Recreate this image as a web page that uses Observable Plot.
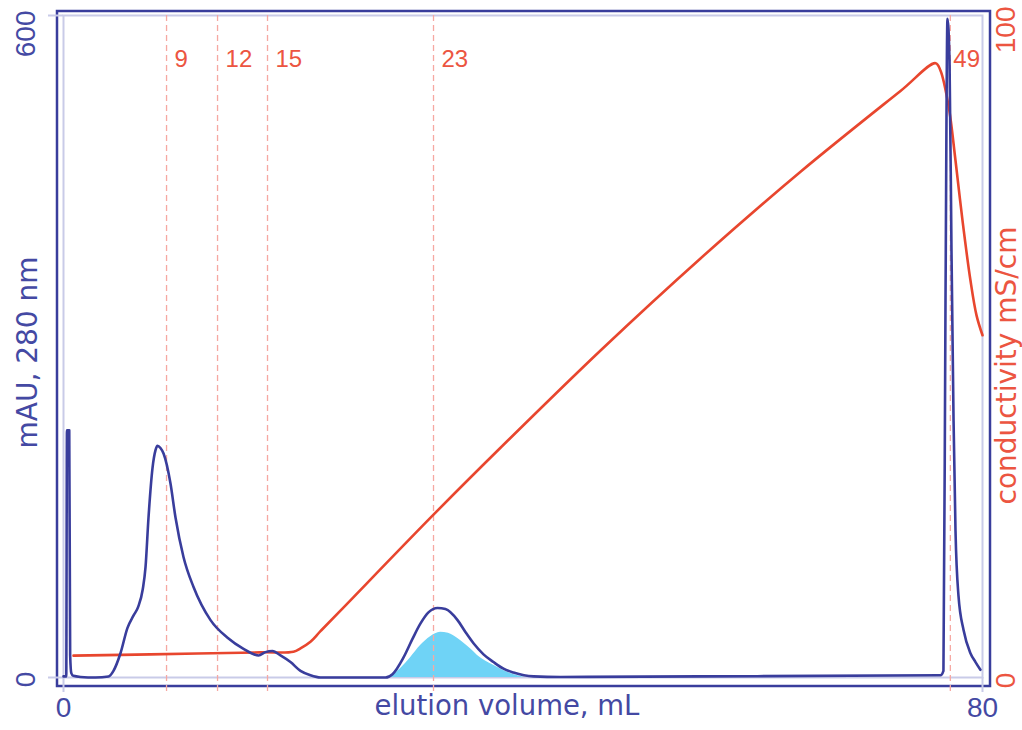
<!DOCTYPE html>
<html><head><meta charset="utf-8">
<script src="https://cdn.jsdelivr.net/npm/d3@7"></script>
<script src="https://cdn.jsdelivr.net/npm/@observablehq/plot@0.6"></script>
<style>html,body{margin:0;padding:0;background:#fff;overflow:hidden}</style>
</head><body><div id="chart"></div>
<script>
// UV absorbance trace (mAU at 280 nm) vs elution volume (mL)
const uvVolume = [0, 0.24, 0.30, 0.50, 0.58, 0.68, 0.85, 1.48, 2.79, 3.92, 4.35, 4.96, 5.57, 6.09, 6.50, 6.90, 7.14, 7.40, 7.75, 8.01, 8.18, 8.44, 8.71, 9.31, 9.75, 10.45, 11.32, 12.80, 14.28, 15.67, 16.98, 17.58, 18.19, 18.89, 19.76, 20.63, 21.50, 22.37, 28.03, 28.64, 29.59, 30.38, 31.08, 31.77, 32.56, 33.25, 34.30, 35.00, 35.69, 36.56, 37.43, 38.30, 39.17, 40.92, 43.26, 55.45, 76.34, 76.60, 76.78, 76.95, 77.13, 77.30, 77.48, 77.65, 77.91, 78.35, 78.95, 79.39, 79.82];
const uvAbsorbance = [1, 1, 224, 224, 20, 4, 1.5, 0.5, 0, 0.9, 6, 22, 45, 56, 64, 80, 100, 145, 190, 206, 210, 208, 203, 176, 145, 109, 82, 52, 36, 26, 20, 23, 24, 20, 14, 6, 2, 0, 0, 3, 18, 35, 49, 59, 63, 62, 52, 41, 31, 21, 14, 8, 4.5, 1, 0.5, 1, 2, 6, 342, 597, 559, 387, 233, 133, 74, 43, 22, 14, 7];

// Shaded target peak (fraction 23)
const peakVolume = [28.47, 29.33, 30.21, 31.08, 31.95, 32.82, 33.51, 34.56, 35.43, 36.04, 37.43, 38.91, 40.22];
const peakAbsorbance = [0, 8, 18, 29, 37, 41, 40, 33.5, 26, 20, 11, 3.6, 0];

// Conductivity trace (mS/cm)
const condVolume = [0.87, 7.57, 17.15, 20.02, 20.63, 21.50, 22.37, 24.11, 32.21, 38.04, 46.75, 55.45, 64.16, 72.86, 75.91, 76.34, 77.04, 77.65, 78.26, 78.95, 79.48, 80.0];
const conductivity = [3.3, 3.5, 3.8, 3.9, 4.4, 5.4, 7.0, 10.1, 24.6, 34.7, 49.4, 63.3, 76.4, 88.6, 92.8, 91.7, 86.4, 78.1, 69.0, 60.0, 54.7, 51.7];

// Fraction markers
const fractionNumbers = ["9", "12", "15", "23", "49"];
const fractionVolumes = [8.97, 13.41, 17.76, 32.21, 77.2];

// Axis ticks
const xTicks = [0, 80];
const xTickLabels = ["0", "80"];
const uvTicks = [0, 600];
const uvTickLabels = ["0", "600"];
const condTicks = [0, 100];
const condTickLabels = ["0", "100"];

const condToUv = 6; // 100 mS/cm spans the same height as 600 mAU

const BLUE = "#393d9c";
const BLUE_TEXT = "#4449a3";
const LIGHT = "#c9cbe8";
const RED = "#e8462e";
const RED_TEXT = "#ec5541";
const PINK = "#f6a8a2";
const CYAN = "#6fd3f6";
const TICKFONT = "Liberation Sans, Arial, sans-serif";
const TITLEFONT = "DejaVu Sans, sans-serif";

const uv = uvVolume.map((v, i) => ({v, a: uvAbsorbance[i]}));
const peak = peakVolume.map((v, i) => ({v, a: peakAbsorbance[i]}));
const cond = condVolume.map((v, i) => ({v, c: conductivity[i]}));
const fractions = fractionNumbers.map((n, i) => ({n, v: fractionVolumes[i]}));

const chart = Plot.plot({
  width: 1022,
  height: 730,
  marginLeft: 63,
  marginRight: 40,
  marginTop: 15,
  marginBottom: 53,
  x: {domain: [0, 80]},
  y: {domain: [0, 600]},
  style: {background: "#fff", overflow: "visible"},
  marks: [
    Plot.frame({stroke: BLUE, strokeWidth: 2.5, insetLeft: -6.5, insetTop: -4.5, insetRight: -7.5, insetBottom: -8.5}),
    Plot.frame({stroke: LIGHT, strokeWidth: 2}),
    Plot.axisY({ticks: uvTicks, tickSize: 15, stroke: LIGHT, strokeWidth: 2, fill: "none", label: null}),
    Plot.axisX({ticks: xTicks, tickSize: 15, stroke: LIGHT, strokeWidth: 2, fill: "none", label: null}),
    Plot.areaY(peak, {x: "v", y: "a", fill: CYAN, curve: "monotone-x"}),
    Plot.ruleX(fractions, {x: "v", stroke: PINK, strokeWidth: 1.3, strokeDasharray: "6,4", insetBottom: -18}),
    Plot.line(cond, {x: "v", y: d => d.c * condToUv, stroke: RED, strokeWidth: 2.6, curve: "catmull-rom"}),
    Plot.line(uv, {x: "v", y: "a", stroke: BLUE, strokeWidth: 2.6, curve: "monotone-x"}),
    // fraction labels
    Plot.text(fractions.slice(0, 4), {x: "v", text: "n", frameAnchor: "top", dy: 34, dx: 8, textAnchor: "start", fill: RED_TEXT, fontSize: 24, fontFamily: TICKFONT}),
    Plot.text(fractions.slice(4), {x: "v", text: "n", frameAnchor: "top", dy: 34, dx: 3, textAnchor: "start", fill: RED_TEXT, fontSize: 24, fontFamily: TICKFONT}),
    // x tick labels
    Plot.text(xTicks, {x: d => d, text: (d, i) => xTickLabels[i], frameAnchor: "bottom", dy: 39, fill: BLUE_TEXT, fontSize: 28, fontFamily: TICKFONT}),
    // left tick labels
    Plot.text(uvTicks.slice(0, 1), {y: d => d, text: (d, i) => uvTickLabels[i], frameAnchor: "left", dx: -37, dy: 2, rotate: -90, textAnchor: "middle", fill: BLUE_TEXT, fontSize: 28, fontFamily: TICKFONT}),
    Plot.text(uvTicks.slice(1), {y: d => d, text: (d, i) => uvTickLabels[i + 1], frameAnchor: "left", dx: -37, dy: -5, rotate: -90, textAnchor: "end", fill: BLUE_TEXT, fontSize: 28, fontFamily: TICKFONT}),
    // right tick labels
    Plot.text(condTicks.slice(0, 1), {y: d => d * condToUv, text: (d, i) => condTickLabels[i], frameAnchor: "right", dx: 24, dy: 3, rotate: -90, textAnchor: "middle", fill: RED_TEXT, fontSize: 28, fontFamily: TICKFONT}),
    Plot.text(condTicks.slice(1), {y: d => d * condToUv, text: (d, i) => condTickLabels[i + 1], frameAnchor: "right", dx: 24, dy: -9, rotate: -90, textAnchor: "end", fill: RED_TEXT, fontSize: 28, fontFamily: TICKFONT}),
    // axis titles
    Plot.text(["elution volume, mL"], {frameAnchor: "bottom", text: d => d, dx: -16, dy: 37, fill: BLUE_TEXT, fontSize: 27.5, fontFamily: TITLEFONT}),
    Plot.text(["mAU, 280 nm"], {frameAnchor: "left", text: d => d, dx: -35, dy: 6, rotate: -90, textAnchor: "middle", fill: BLUE_TEXT, fontSize: 28, fontFamily: TITLEFONT}),
    Plot.text(["conductivity mS/cm"], {frameAnchor: "right", text: d => d, dx: 25, dy: 19, rotate: -90, textAnchor: "middle", fill: RED_TEXT, fontSize: 28, fontFamily: TITLEFONT})
  ]
});
document.getElementById("chart").appendChild(chart);
</script>
</body></html>
